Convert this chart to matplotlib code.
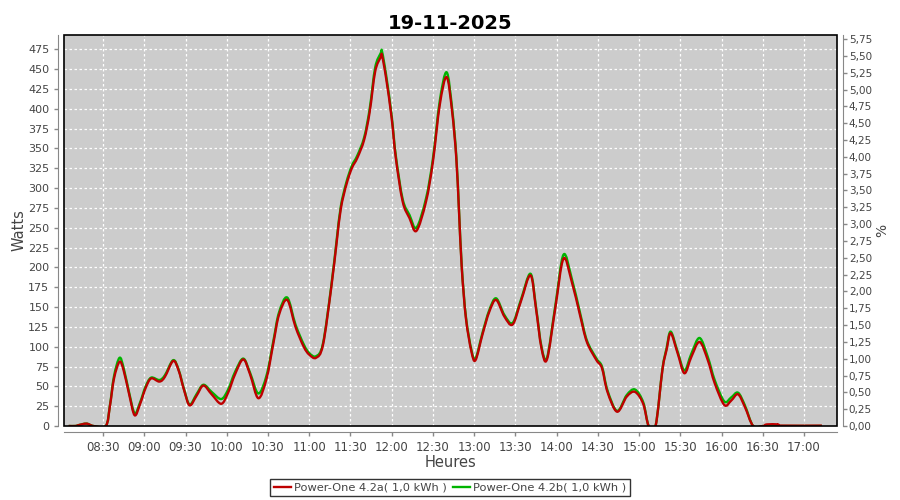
import numpy as np
import pandas as pd
import matplotlib
matplotlib.use("Agg")
import matplotlib.pyplot as plt
import matplotlib.dates as mdates
from matplotlib.path import Path
from matplotlib.patches import PathPatch
from matplotlib.lines import Line2D
from matplotlib.ticker import FuncFormatter, MultipleLocator

# Chart inputs
TITLE = "19-11-2025"
XLABEL = "Heures"
YLABEL = "Watts"
Y2LABEL = "%"
LABEL_A = "Power-One 4.2a( 1,0 kWh )"
LABEL_B = "Power-One 4.2b( 1,0 kWh )"
COLOR_A = "#BE0000"
COLOR_B = "#00B400"
BG = "#CCCCCC"
DAY = "2025-11-19 "

# Data
times = ["08:05", "08:10", "08:12", "08:18", "08:23", "08:32", "08:35", "08:38",
         "08:42", "08:45", "08:49", "08:53", "08:57", "09:01", "09:05", "09:11",
         "09:15", "09:21", "09:25", "09:29", "09:33", "09:38", "09:43", "09:49",
         "09:56", "10:01", "10:06", "10:12", "10:17", "10:23", "10:29", "10:34",
         "10:38", "10:44", "10:50", "10:56", "11:00", "11:05", "11:10", "11:16",
         "11:20", "11:23", "11:27", "11:31", "11:35", "11:40", "11:44", "11:48",
         "11:52", "11:53", "11:56", "12:00", "12:03", "12:08", "12:13", "12:18",
         "12:25", "12:30", "12:35", "12:40", "12:44", "12:47", "12:49", "12:51",
         "12:54", "12:58", "13:01", "13:06", "13:11", "13:16", "13:22", "13:28",
         "13:34", "13:41", "13:45", "13:49", "13:53", "13:59", "14:05", "14:11",
         "14:17", "14:22", "14:29", "14:33", "14:37", "14:44", "14:51", "14:57",
         "15:03", "15:07", "15:12", "15:17", "15:20", "15:23", "15:28", "15:33",
         "15:38", "15:44", "15:50", "15:55", "16:02", "16:07", "16:12", "16:17",
         "16:23", "16:30", "16:33", "16:41", "16:43", "17:13"]

watts_a = [0, 0, 1, 3, 0, 0, 25, 60,
           81, 70, 40, 13.5, 28, 48, 60, 56,
           62, 82, 70, 45, 26, 38, 51, 40,
           28, 42, 65, 84, 65, 35, 60, 105,
           140, 159, 125, 100, 90, 86, 102, 174,
           232, 274, 304, 325, 338, 361, 396, 447,
           465, 467, 438, 388, 338, 283, 262, 246,
           283, 333, 405, 440, 396, 338, 270, 199,
           136, 94, 83, 115, 144, 159, 138, 128,
           157, 190, 148, 98, 84, 148, 211, 182,
           140, 106, 83, 73, 43, 18, 37, 43,
           28, 0, 0, 71, 96, 117, 92, 66.5,
           87, 106, 83, 54, 26.5, 32, 40, 24,
           0, 0, 2, 2, 0.5, 0.5]

watts_b = [0, 0, 1, 3, 0, 0, 26, 63,
           86, 73, 42, 16, 30, 50, 61, 58,
           64, 83, 71, 46, 27, 40, 52, 43,
           34, 46, 68, 85, 67, 41, 64, 108,
           143, 162, 128, 103, 92, 88, 104, 176,
           235, 277, 307, 328, 341, 364, 400, 452,
           470, 472, 442, 391, 341, 286, 266, 250,
           287, 337, 410, 446, 400, 341, 272, 201,
           138, 96, 85, 117, 146, 161, 140, 130,
           159, 192, 150, 100, 86, 151, 216, 186,
           143, 108, 85, 75, 45, 19, 39, 46,
           30, 0, 0, 72, 98, 119, 94, 70,
           91, 111, 87, 58, 31, 36, 42, 26,
           0, 0, 0, 0, 0, 0]


def spline_path(x, y):
    # Catmull-Rom through the points, drawn as cubic Bezier segments
    x, y = np.asarray(x, float), np.asarray(y, float)
    verts = [(x[0], y[0])]
    codes = [Path.MOVETO]
    n = len(x)
    for i in range(n - 1):
        p0 = i - 1 if i > 0 else i
        p3 = i + 2 if i + 2 < n else i + 1
        c1 = (x[i] + (x[i + 1] - x[p0]) / 6, y[i] + (y[i + 1] - y[p0]) / 6)
        c2 = (x[i + 1] - (x[p3] - x[i]) / 6, y[i + 1] - (y[p3] - y[i]) / 6)
        verts += [c1, c2, (x[i + 1], y[i + 1])]
        codes += [Path.CURVE4] * 3
    return Path(verts, codes)


t = mdates.date2num(pd.to_datetime([DAY + s for s in times]))

fig = plt.figure(figsize=(9, 5), dpi=100)
ax = fig.add_axes([64 / 900, 74 / 500, 773 / 900, 391 / 500])
ax2 = ax.twinx()
ax.set_zorder(ax2.get_zorder() + 1)
ax.set_facecolor(BG)
ax2.patch.set_visible(False)

for vals, color in ((watts_b, COLOR_B), (watts_a, COLOR_A)):
    patch = PathPatch(spline_path(t, vals), facecolor="none", edgecolor=color,
                      lw=1.7, zorder=3, joinstyle="round")
    ax.add_patch(patch)

ax.xaxis_date()
ax.set_xlim(mdates.date2num(pd.Timestamp(DAY + "08:01:36")),
            mdates.date2num(pd.Timestamp(DAY + "17:24:00")))
ax.set_ylim(0, 493)
ax2.set_ylim(0, 5.81)

ax.xaxis.set_major_locator(mdates.MinuteLocator(byminute=[0, 30]))
ax.xaxis.set_major_formatter(mdates.DateFormatter("%H:%M"))
ax.yaxis.set_major_locator(MultipleLocator(25))
ax2.yaxis.set_major_locator(MultipleLocator(0.25))
ax2.yaxis.set_major_formatter(FuncFormatter(lambda v, p: f"{v:.2f}".replace(".", ",")))

ax.grid(True, color="white", ls=(0, (2, 2)), lw=0.9, zorder=1)
ax.set_axisbelow(True)

for a in (ax, ax2):
    for s in a.spines.values():
        s.set_visible(False)
for side in ("left", "bottom"):
    ax.spines[side].set_visible(True)
    ax.spines[side].set_position(("outward", 4))
    ax.spines[side].set_color("#888888")
ax2.spines["right"].set_visible(True)
ax2.spines["right"].set_position(("outward", 4))
ax2.spines["right"].set_color("#888888")

# black plot border
border = plt.Rectangle((0, 0), 1, 1, transform=ax.transAxes, fill=False,
                       edgecolor="black", lw=1.2, zorder=10, clip_on=False)
ax.add_patch(border)

ax.tick_params(axis="both", colors="#888888", labelcolor="#444444",
               labelsize=8, length=3, width=1)
ax2.tick_params(axis="y", colors="#888888", labelcolor="#444444",
                labelsize=7.5, length=3, width=1, pad=1.5)
ax.tick_params(axis="x", labelsize=8.5)

ax.set_xlabel(XLABEL, fontsize=10.5, color="#444444", labelpad=1)
ax.set_ylabel(YLABEL, fontsize=10.5, color="#444444", labelpad=1)
ax2.set_ylabel(Y2LABEL, fontsize=10, color="#444444", labelpad=2)

fig.suptitle(TITLE, fontsize=14, fontweight="bold", y=0.972)

handles = [Line2D([], [], color=COLOR_A, lw=1.7),
           Line2D([], [], color=COLOR_B, lw=1.7)]
leg = fig.legend(handles, [LABEL_A, LABEL_B], loc="center", ncol=2,
                 bbox_to_anchor=(0.5, 0.025), frameon=True, fancybox=False,
                 fontsize=8.2, handlelength=1.5, handletextpad=0.3,
                 columnspacing=0.5, borderpad=0.3, borderaxespad=0)
leg.get_frame().set_edgecolor("black")
leg.get_frame().set_linewidth(1)
for txt in leg.get_texts():
    txt.set_color("#444444")

fig.savefig("out.png", dpi=100)
